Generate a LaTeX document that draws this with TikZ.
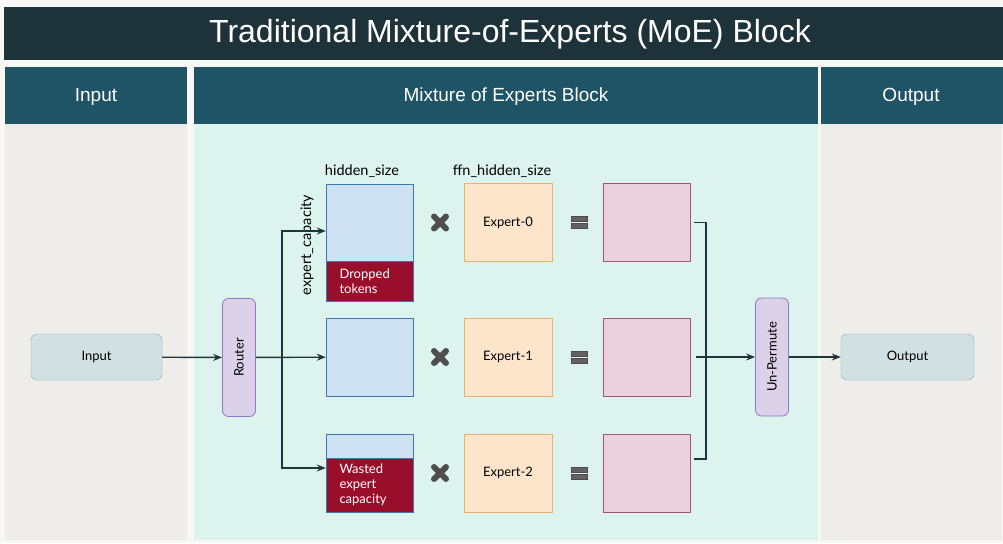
\documentclass[tikz,border=0pt]{standalone}
\usepackage{fontspec}
\setmainfont{Liberation Sans}
\newfontfamily\boxfont{Lato}
\usepackage{xcolor}
\usetikzlibrary{arrows.meta,positioning,calc}
\definecolor{Paper}{HTML}{F8F7F4}
\definecolor{TitleBg}{HTML}{1D3239}
\definecolor{HeadBg}{HTML}{1F5366}
\definecolor{Side}{HTML}{EEEDEA}
\definecolor{Mint}{HTML}{DDF4EE}
\definecolor{Wire}{HTML}{1F353C}
\definecolor{IoFill}{HTML}{D1E0E3}
\definecolor{IoLine}{HTML}{8AA8AF}
\definecolor{RouteFill}{HTML}{DBD2E9}
\definecolor{RouteLine}{HTML}{9275C8}
\definecolor{TokFill}{HTML}{CFE2F3}
\definecolor{TokLine}{HTML}{3F77B5}
\definecolor{Drop}{HTML}{990F2B}
\definecolor{ExpFill}{HTML}{FDE5CC}
\definecolor{ExpLine}{HTML}{EFB06E}
\definecolor{ResFill}{HTML}{EAD1DC}
\definecolor{ResLine}{HTML}{A55470}
\definecolor{OpGray}{HTML}{626262}
\tikzset{
  header/.style={fill=HeadBg,text=white,font=\fontsize{19}{21}\selectfont},
  iobox/.style={rounded corners=6pt,draw=IoLine,fill=IoFill,minimum width=131pt,minimum height=46pt,font=\boxfont\fontsize{13}{15}\selectfont},
  gate/.style={rounded corners=6pt,draw=RouteLine,fill=RouteFill,thick,minimum width=118pt,minimum height=33pt,rotate=90,font=\boxfont\fontsize{13}{15}\selectfont},
  tok/.style={draw=TokLine,fill=TokFill,minimum width=87pt,inner sep=0pt},
  dropbox/.style={draw=TokLine,fill=Drop,minimum width=87pt,inner sep=0pt,text=white,text width=60pt,align=left,font=\boxfont\fontsize{13}{15}\selectfont},
  expert/.style={draw=ExpLine,fill=ExpFill,minimum width=88pt,minimum height=78pt,font=\boxfont\fontsize{13}{15}\selectfont},
  result/.style={draw=ResLine,fill=ResFill,minimum width=87pt,minimum height=78pt},
  arrow/.style={-{Stealth[length=9pt,width=7pt,inset=3pt]},draw=Wire,line width=1.4pt},
  wire/.style={draw=Wire,line width=1.4pt},
  dimlabel/.style={font=\boxfont\fontsize{14.5}{16}\selectfont},
  timesmark/.style={draw=OpGray!80!black,line width=6pt,line cap=round},
  eqbar/.style={draw=black!70,fill=OpGray,line width=0.6pt}
}
\begin{document}
\begin{tikzpicture}[x=1pt,y=-1pt]
  \useasboundingbox (0,0) rectangle (1003,543);
  \fill[Paper] (0,0) rectangle (1003,543);
  % title and column heads
  \fill[TitleBg] (4,7) rectangle (1003,60);
  \node[text=white,font=\fontsize{32}{36}\selectfont] (title) at (510,34) {Traditional Mixture-of-Experts (MoE) Block};
  \fill[Side] (5,124) rectangle (187,540);
  \fill[Mint] (194,124) rectangle (818,540);
  \fill[Side] (821,124) rectangle (1002,540);
  \fill[header] (5,67) rectangle (187,124);
  \fill[header] (194,67) rectangle (818,124);
  \fill[header] (821,67) rectangle (1003,124);
  \node[header] (hin) at (96,97) {Input};
  \node[header] (hmoe) at (506,97) {Mixture of Experts Block};
  \node[header] (hout) at (911,97) {Output};

  % input side
  \node[iobox] (inp) at (96.5,357) {Input};
  \node[gate] (router) at (239,357.5) {Router};

  % token buffers
  \node[tok,minimum height=117pt] (tok0) at (369.5,242.5) {};
  \node[dropbox,minimum height=40pt] (drop0) at (369.5,281) {Dropped\\tokens};
  \node[tok,minimum height=78pt] (tok1) at (369.5,357) {};
  \node[tok,minimum height=78pt] (tok2) at (369.5,473) {};
  \node[dropbox,minimum height=54pt] (drop2) at (369.5,485) {Wasted\\expert\\capacity};
  \node[dimlabel] (hid) at (362,171) {hidden\_size};
  \node[dimlabel,rotate=90] (cap) at (307,245) {expert\_capacity};

  % experts and results
  \foreach \i/\y in {0/222.5,1/357,2/473} {
    \node[expert] (exp\i) at (508,\y) {Expert-\i};
    \node[result] (res\i) at (646.5,\y) {};
    \draw[timesmark] (434,\y-6) -- (446,\y+6) (434,\y+6) -- (446,\y-6);
    \fill[eqbar] (571,\y-6) rectangle (587,\y-1);
    \fill[eqbar] (571,\y+1) rectangle (587,\y+6);
    \draw[eqbar] (571,\y-6) rectangle (587,\y-1) (571,\y+1) rectangle (587,\y+6);
  }
  \node[dimlabel] (ffn) at (502,171) {ffn\_hidden\_size};

  % routing
  \coordinate (fork) at (282,357);
  \draw[arrow] (router) -- (tok1);
  \draw[arrow] (fork) |- ([yshift=11.5pt]tok0.west);
  \draw[arrow] (fork) |- ([yshift=5pt]tok2.west);

  % output side
  \node[gate] (unperm) at (772,357) {Un-Permute};
  \node[iobox,minimum width=133pt] (outp) at (907.5,357) {Output};
  \draw[wire] ([xshift=4pt]res0.east) -| (706,357) |- ([xshift=4pt,yshift=14pt]res2.east);
  \draw[arrow] ([xshift=6pt]res1.east) -- (unperm);
  \draw[arrow] (unperm) -- (outp);
  \draw[arrow] (inp) -- (router);
\end{tikzpicture}
\end{document}
